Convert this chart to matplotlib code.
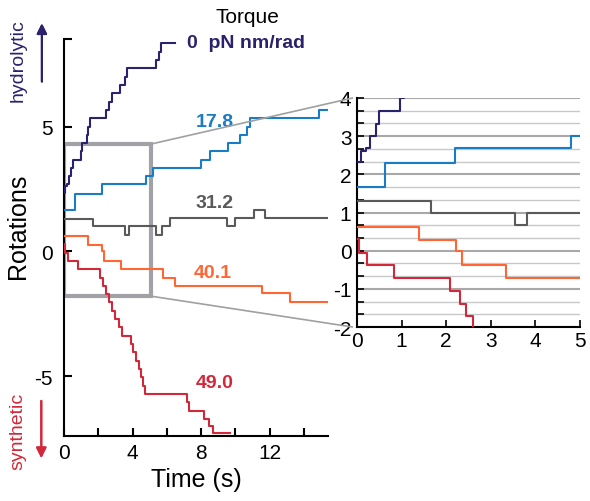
import matplotlib
matplotlib.use('Agg')
from matplotlib import pyplot as plt
from matplotlib.patches import Rectangle, ConnectionPatch
from matplotlib.ticker import MultipleLocator

plt.rcParams['font.family'] = ['Liberation Sans', 'DejaVu Sans']
plt.rcParams['axes.unicode_minus'] = False

# step traces: time of each step (s) and level after it (rotations)
t_0 = [0, 0.08, 0.2, 0.3, 0.42, 0.5, 0.97, 1.05, 1.33, 1.42, 1.52, 2.45, 2.65, 2.78,
       3.25, 3.55, 3.68, 5.4, 5.55, 5.65, 6.5]
r_0 = [2.33, 2.6, 2.7, 3.0, 3.33, 3.67, 4.0, 4.33, 4.67, 5.0, 5.33, 5.67, 6.0, 6.33,
       6.67, 7.0, 7.33, 7.67, 8.0, 8.33, 8.33]

t_17 = [0, 0.62, 2.2, 4.8, 5.2, 7.98, 8.54, 9.6, 10.3, 10.68, 10.88, 14.87, 15.35]
r_17 = [1.67, 2.3, 2.7, 3.0, 3.33, 3.67, 4.0, 4.33, 4.67, 5.0, 5.33, 5.67, 5.67]

t_31 = [0, 1.67, 3.55, 3.82, 5.35, 5.72, 6.2, 9.5, 10.0, 11.07, 11.75, 15.35]
r_31 = [1.3, 1.0, 0.67, 1.0, 0.67, 1.0, 1.33, 1.0, 1.33, 1.67, 1.33, 1.33]

t_40 = [0, 1.4, 2.22, 2.35, 3.35, 5.8, 6.5, 11.55, 13.2, 15.35]
r_40 = [0.63, 0.27, 0.0, -0.37, -0.72, -1.05, -1.38, -1.67, -2.03, -2.03]

t_49 = [0, 0.05, 0.22, 0.82, 2.08, 2.3, 2.45, 2.6, 2.8, 3.0, 3.2, 3.4, 3.9, 4.05, 4.2,
        4.35, 4.5, 4.62, 4.75, 7.2, 7.3, 8.2, 8.45, 8.7, 9.7]
r_49 = [0.3, -0.05, -0.38, -0.72, -1.05, -1.4, -1.72, -2.05, -2.38, -2.72, -3.05, -3.38,
        -3.72, -4.05, -4.38, -4.72, -5.05, -5.38, -5.72, -6.05, -6.38, -6.72, -7.0, -7.3, -7.3]

traces = [
    (t_0, r_0, '#2b226e', '0  pN nm/rad', 7.2, 8.36, 'left'),
    (t_17, r_17, '#1a7bc6', '17.8', 8.8, 5.2, 'center'),
    (t_31, r_31, '#5a5a5a', '31.2', 8.8, 1.96, 'center'),
    (t_40, r_40, '#ff6633', '40.1', 8.7, -0.85, 'center'),
    (t_49, r_49, '#d3283a', '49.0', 8.8, -5.25, 'center'),
]

fig = plt.figure(figsize=(5.9, 5.02), dpi=100)
ax = fig.add_axes([0.1085, 0.1295, 0.447, 0.7905])
axin = fig.add_axes([0.605, 0.3466, 0.378, 0.4562])

for t, r, c, lab, lx, ly, ha in traces:
    ax.plot(t, r, drawstyle='steps-post', color=c, lw=1.5, zorder=3)
    axin.plot(t, r, drawstyle='steps-post', color=c, lw=1.5, zorder=3)
    ax.text(lx, ly, lab, color=c, fontsize=14, fontweight='bold', ha=ha, va='center')

ax.set_xlim(0, 15.4)
ax.set_ylim(-7.4, 8.5)
ax.set_xticks([0, 4, 8, 12])
ax.set_xticks([2, 6, 10, 14], minor=True)
ax.set_yticks([-5, 0, 5])
ax.set_yticks([8.5], minor=True)
for s in ['top', 'right']:
    ax.spines[s].set_visible(False)
ax.spines['left'].set_linewidth(1.5)
ax.spines['bottom'].set_linewidth(1.5)
ax.tick_params(which='both', direction='in', length=6, width=1.5, labelsize=15)
ax.tick_params(axis='y', pad=8)
ax.tick_params(axis='x', pad=5)
ax.set_xlabel('Time (s)', fontsize=18, labelpad=4)

ax.add_patch(Rectangle((0, -1.8), 5.1, 6.1, fill=False, ec='#a2a2a6', lw=3, zorder=2))

axin.set_xlim(0, 5)
axin.set_ylim(-2, 4)
axin.set_xticks(range(6))
axin.set_yticks(range(-2, 5))
axin.yaxis.set_minor_locator(MultipleLocator(1 / 3))
axin.grid(which='major', axis='y', color='#a8a8a8', lw=1.5, zorder=0)
axin.grid(which='minor', axis='y', color='#c8c8c8', lw=1, zorder=0)
for s in ['top', 'right']:
    axin.spines[s].set_visible(False)
axin.spines['left'].set_linewidth(1.5)
axin.spines['bottom'].set_linewidth(1.5)
axin.tick_params(which='both', direction='in', length=5, width=1.2, labelsize=15)
axin.tick_params(axis='y', pad=4)
axin.tick_params(axis='x', pad=3)

for yb, ybin in [(4.3, 1.0), (-1.8, 0.0)]:
    con = ConnectionPatch(xyA=(5.1, yb), coordsA=ax.transData,
                          xyB=(-0.02, ybin), coordsB=axin.transAxes,
                          color='#a0a0a0', lw=1.2)
    fig.add_artist(con)

fig.text(0.419, 0.965, 'Torque', fontsize=15, ha='center', va='center')
fig.text(0.03, 0.55, 'Rotations', fontsize=18, rotation=90, ha='center', va='center')
fig.text(0.031, 0.88, 'hydrolytic', fontsize=14, rotation=90, ha='center', va='center',
         color='#2b226e')
fig.text(0.031, 0.14, 'synthetic', fontsize=14, rotation=90, ha='center', va='center',
         color='#d3283a')
fig.add_artist(plt.annotate('', xy=(0.071, 0.957), xytext=(0.071, 0.83),
                            xycoords='figure fraction',
                            arrowprops=dict(arrowstyle='-|>', color='#2b226e', lw=1.5,
                                            mutation_scale=15)))
fig.add_artist(plt.annotate('', xy=(0.07, 0.08), xytext=(0.07, 0.205),
                            xycoords='figure fraction',
                            arrowprops=dict(arrowstyle='-|>', color='#d3283a', lw=1.5,
                                            mutation_scale=15)))

fig.savefig('out.png', dpi=100)
